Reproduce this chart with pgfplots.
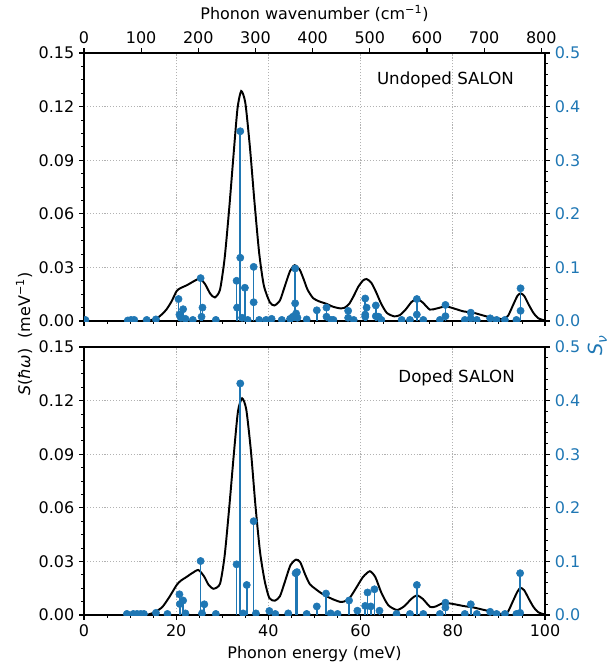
\documentclass[border=0pt]{standalone}
\usepackage{fontspec}
\setmainfont{DejaVu Sans}
\usepackage{pgfplots}
\pgfplotsset{compat=1.18}
\definecolor{cblue}{RGB}{31,119,180}

\newcommand{\lblfont}{\fontsize{11.5}{14}\selectfont}

\pgfplotsset{
  every axis/.append style={
    /pgf/number format/assume math mode=true,
    scale only axis,
    width=331.92pt, height=192.96pt,
    xmin=0, xmax=100,
    tick align=outside,
    major tick length=3.5pt, minor tick length=2pt,
    every tick/.style={black, line width=0.8pt},
    minor tick style={line width=0.6pt},
    axis line style={line width=0.8pt},
    tick label style={font=\lblfont},
    label style={font=\lblfont},
    clip marker paths=true,
  },
  leftax/.style={
    ymin=0, ymax=0.15,
    ytick={0,0.03,...,0.15},
    minor y tick num=3,
    xtick={0,20,...,100},
    minor x tick num=3,
    xtick pos=left, ytick pos=left,
    yticklabel style={/pgf/number format/.cd, fixed, fixed zerofill, precision=2},
    grid=major,
    major grid style={gray!60, line width=0.6pt, dash pattern=on 0.8pt off 1.3pt},
  },
  rightax/.style={
    ymin=0, ymax=0.5,
    ytick={0,0.1,...,0.5},
    minor y tick num=4,
    axis y line*=right, axis x line=none,
    yticklabel style={text=cblue, /pgf/number format/.cd, fixed, fixed zerofill, precision=1},
  },
  curve/.style={black, line width=1.4pt, smooth, tension=0.4},
  stems/.style={ycomb, cblue, line width=1.2pt, mark=*, mark size=2.6pt,
    mark options={fill=cblue, draw=cblue, line width=0.4pt}},
}

\begin{document}
\begin{tikzpicture}
\useasboundingbox (0pt,0pt) rectangle (439.92pt,-478.8pt);

% ---------- top panel: undoped ----------
\begin{axis}[leftax, at={(60.48pt,-231.12pt)}, anchor=south west, xticklabels={}]
\addplot[curve] coordinates {
 (0,0) (12,0) (14,0.0003) (15.8,0.0015) (17,0.0040) (17.9,0.0065) (19,0.011)
 (20.1,0.0168) (21,0.0185) (22.3,0.0200) (23.5,0.0218) (24.5,0.0232) (25.2,0.0238)
 (26.3,0.0205) (27.4,0.0152) (28.4,0.0132) (29.5,0.0175) (30.5,0.035) (31.5,0.063)
 (32.5,0.095) (33.3,0.119) (34.1,0.1287) (35,0.122) (36,0.097) (37,0.066)
 (38,0.038) (39,0.020) (40.3,0.0105) (41.3,0.0087) (42.5,0.0115) (43.5,0.019)
 (44.7,0.028) (45.7,0.0312) (46.8,0.0287) (47.7,0.023) (48.5,0.0175) (49.7,0.0128)
 (51,0.0110) (52.6,0.0096) (54,0.0080) (55.5,0.0071) (56.5,0.0074) (57.5,0.0095)
 (58.5,0.0140) (59.5,0.0192) (60.5,0.0226) (61.3,0.0235) (62.3,0.0215) (63.3,0.0165)
 (64.5,0.0095) (65.7,0.0045) (67.3,0.0026) (68.5,0.0033) (69.8,0.0065) (71,0.0105)
 (72.2,0.0125) (73.5,0.0103) (75,0.0064) (76.5,0.0070) (78.5,0.0082) (80.5,0.0068)
 (82.3,0.0054) (84.5,0.0046) (87.4,0.0025) (89.5,0.0015) (91,0.0011) (92,0.0030)
 (93,0.0085) (94,0.0140) (94.7,0.0155) (95.5,0.0140) (96.5,0.0090) (97.5,0.0045)
 (98.5,0.0016) (100,0.0002)
};
\node[anchor=east, inner sep=0pt, font=\fontsize{12}{14}\selectfont]
  at (rel axis cs:0.933,0.899) {Undoped SALON};
\end{axis}

\begin{axis}[rightax, at={(60.48pt,-231.12pt)}, anchor=south west]
\addplot[stems] coordinates {
 (0.3,0.002) (9.5,0.001) (10.2,0.002) (10.9,0.002) (13.6,0.002) (15.6,0.003)
 (20.5,0.041) (20.7,0.012) (21.0,0.006) (21.5,0.022) (22.0,0.004) (23.6,0.002)
 (25.3,0.080) (25.5,0.008) (25.7,0.025) (28.6,0.002)
 (33.1,0.075) (33.2,0.025) (33.9,0.354) (33.9,0.118) (34.3,0.006) (34.9,0.062)
 (35.5,0.002) (36.8,0.101) (36.8,0.035) (38.0,0.002) (39.5,0.002) (40.7,0.004)
 (42.9,0.002) (44.7,0.004) (45.3,0.008) (45.8,0.098) (45.8,0.033) (46.0,0.014)
 (46.3,0.006) (48.3,0.003) (50.5,0.020) (52.6,0.025) (52.6,0.008) (53.6,0.002)
 (54.1,0.002) (57.3,0.019) (57.3,0.006) (58.5,0.002) (61.0,0.042) (61.0,0.012)
 (61.3,0.025) (61.0,0.008) (63.3,0.029) (63.3,0.009) (63.9,0.008) (64.5,0.002)
 (68.9,0.002) (70.7,0.002) (72.2,0.041) (72.2,0.012) (73.6,0.002) (77.2,0.002)
 (78.4,0.030) (78.4,0.009) (82.6,0.002) (83.9,0.0155) (83.9,0.005) (85.2,0.002)
 (88.1,0.005) (89.5,0.002) (91.3,0.002) (93.8,0.002) (94.7,0.061) (94.7,0.019)
};
\end{axis}

% top x axis in wavenumbers (1 meV = 8.06554 cm^-1)
\begin{axis}[at={(60.48pt,-231.12pt)}, anchor=south west,
  xmin=0, xmax=806.554, ymin=0, ymax=1,
  axis x line*=top, hide y axis,
  xtick={0,100,...,800},
  xlabel={Phonon wavenumber (cm\textsuperscript{−1})}]
\addplot[draw=none] coordinates {(0,0)};
\end{axis}

% ---------- bottom panel: doped ----------
\begin{axis}[leftax, at={(60.48pt,-442.8pt)}, anchor=south west,
  xlabel={Phonon energy (meV)}]
\addplot[curve] coordinates {
 (0,0) (12,0) (14,0.0003) (15.5,0.0018) (17,0.0045) (18.5,0.010) (20.1,0.0168)
 (21,0.0192) (22.3,0.0214) (23.5,0.0235) (24.8,0.0252) (26,0.0218) (27,0.0170)
 (28.1,0.0147) (29.5,0.0175) (30.5,0.033) (31.5,0.060) (32.5,0.090) (33.4,0.114)
 (34.3,0.1213) (35.2,0.115) (36.2,0.092) (37.2,0.061) (38.2,0.035) (39.2,0.019)
 (40.2,0.0095) (41.4,0.0080) (42.5,0.0105) (43.5,0.018) (44.8,0.028) (46.0,0.0310)
 (46.9,0.0296) (48,0.0225) (49,0.0172) (50,0.0150) (51.3,0.0125) (52.6,0.0105)
 (54,0.0088) (55.5,0.0074) (56.5,0.0076) (57.7,0.0098) (59,0.0150) (60.5,0.0212)
 (62.0,0.0245) (63.2,0.0212) (64.5,0.0125) (66,0.0055) (67.9,0.0028) (69.5,0.0050)
 (71,0.0090) (72.2,0.0110) (73.5,0.0090) (75.1,0.0045) (76.3,0.0048) (78,0.0068)
 (80,0.0062) (82.4,0.0050) (84.5,0.0042) (86.5,0.0030) (88.3,0.0019) (90,0.0008)
 (91.1,0.0006) (92,0.0020) (93,0.0075) (94,0.0130) (94.7,0.0152) (95.5,0.0138)
 (96.5,0.0090) (97.5,0.0045) (98.5,0.0016) (100,0.0002)
};
\node[anchor=east, inner sep=0pt, font=\fontsize{12}{14}\selectfont]
  at (rel axis cs:0.935,0.884) {Doped SALON};
\end{axis}

\begin{axis}[rightax, at={(60.48pt,-442.8pt)}, anchor=south west]
\addplot[stems] coordinates {
 (9.3,0.002) (10.7,0.002) (11.5,0.002) (12.3,0.002) (13.0,0.002) (15.6,0.004)
 (18.1,0.002) (20.7,0.0386) (20.8,0.0205) (21.5,0.027) (22.0,0.003) (25.3,0.1007)
 (25.6,0.003) (26.1,0.020) (28.6,0.002) (33.1,0.0945) (33.9,0.432) (34.5,0.003)
 (35.3,0.056) (36.8,0.175) (37.3,0.003) (40.2,0.0075) (41.5,0.002) (44.3,0.003)
 (45.9,0.078) (46.2,0.080) (48.3,0.002) (50.5,0.016) (52.5,0.040) (53.5,0.003)
 (55.0,0.002) (57.5,0.027) (59.3,0.008) (61.0,0.017) (61.5,0.042) (62.2,0.016)
 (63.0,0.048) (64.1,0.008) (67.8,0.002) (70.7,0.002) (72.2,0.056) (73.6,0.002)
 (77.2,0.002) (78.4,0.023) (78.4,0.014) (82.6,0.002) (83.9,0.020) (85.2,0.002)
 (88.1,0.006) (89.5,0.002) (91.3,0.002) (93.8,0.002) (94.6,0.078) (94.6,0.004)
};
\end{axis}

% shared y labels
\node[rotate=90, font=\lblfont, inner sep=0pt] at (17.3pt,-240.5pt)
  {\textit{S}(\textit{ħω})\ \ (meV\textsuperscript{−1})};
\node[rotate=90, font=\fontsize{14}{16}\selectfont, inner sep=0pt, text=cblue] at (430pt,-249pt)
  {\textit{S}\raisebox{-0.25em}{\fontsize{10}{12}\selectfont\textit{ν}}};
\end{tikzpicture}
\end{document}
